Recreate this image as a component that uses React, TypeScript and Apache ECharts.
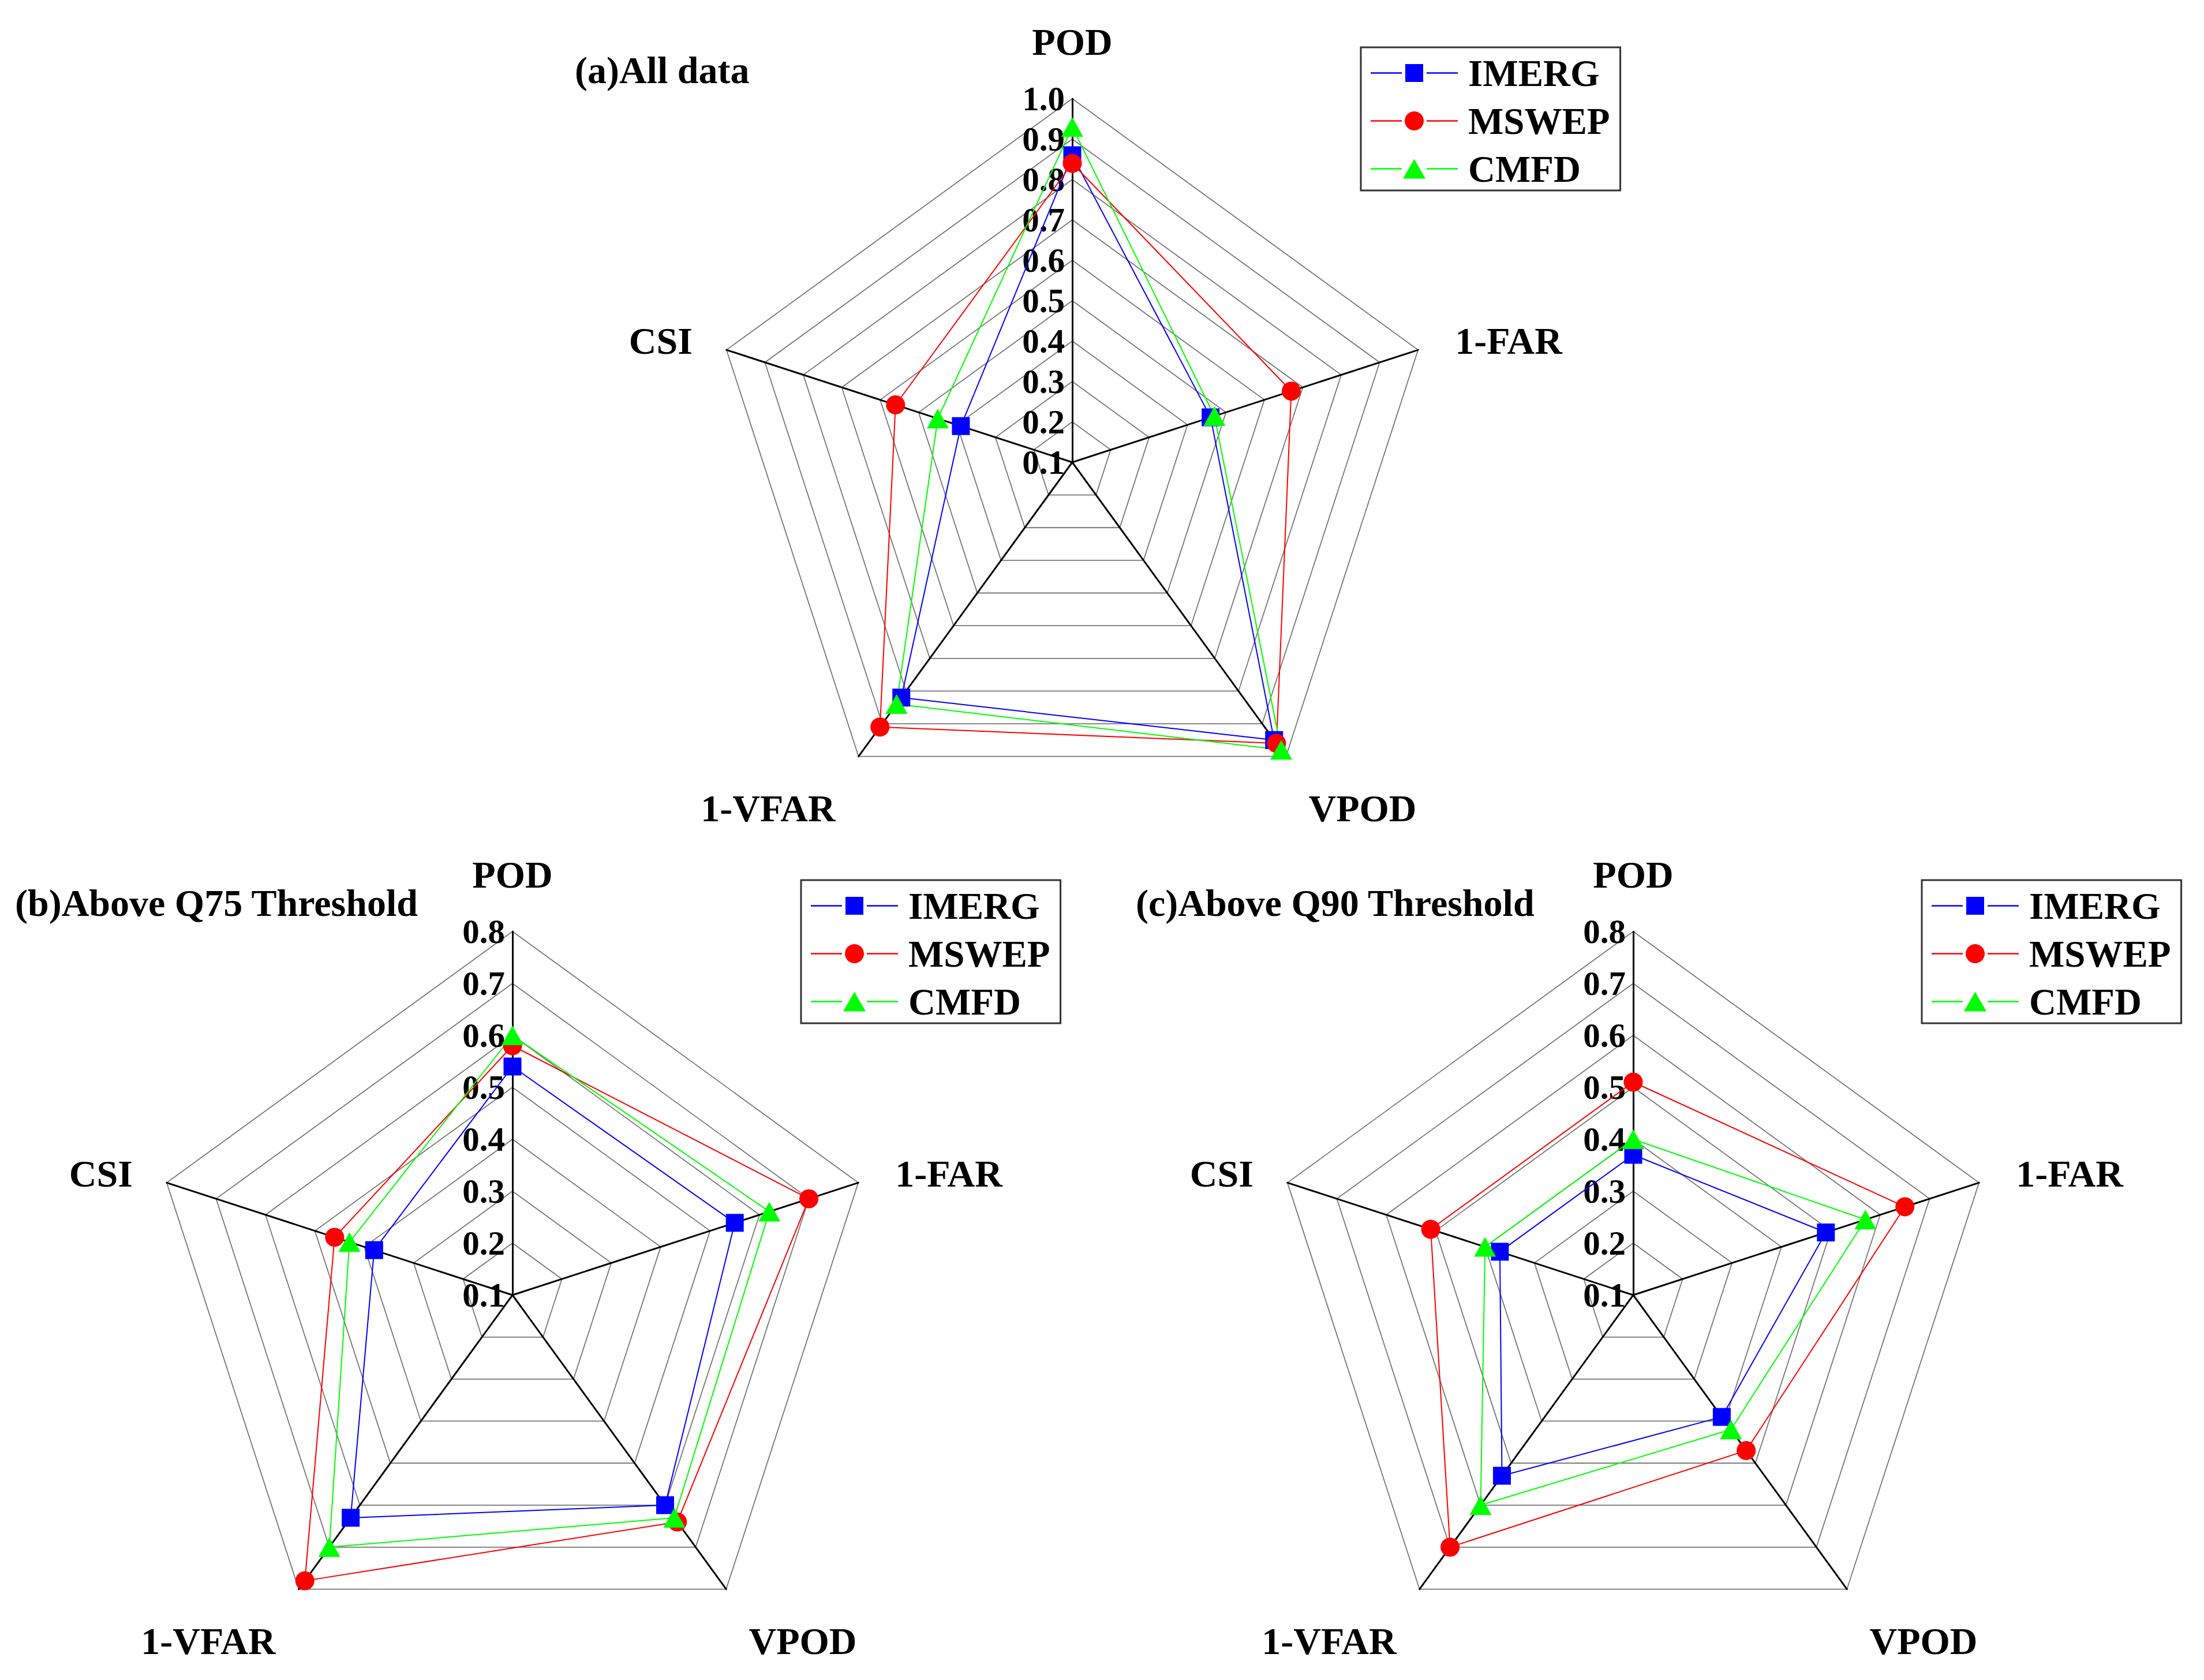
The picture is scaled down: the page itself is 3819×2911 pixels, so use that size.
import React, { useEffect, useRef } from 'react';
import * as echarts from 'echarts';

// ---------- data ----------
// indicators listed counter-clockwise from the top (ECharts radar order)
const indicatorNames = ['POD', 'CSI', '1-VFAR', 'VPOD', '1-FAR'];
const products = ['IMERG', 'MSWEP', 'CMFD'];
const panelTitles = ['(a)All data', '(b)Above Q75 Threshold', '(c)Above Q90 Threshold'];
const axisMin = 0.1;
const axisMaxes = [1.0, 0.8, 0.8];
const tickStep = 0.1;

// values ordered as indicatorNames: POD, CSI, 1-VFAR, VPOD, 1-FAR
const allDataIMERG = [0.86, 0.39, 0.82, 0.95, 0.46];
const allDataMSWEP = [0.84, 0.56, 0.91, 0.96, 0.67];
const allDataCMFD = [0.93, 0.45, 0.84, 0.98, 0.47];

const q75IMERG = [0.54, 0.38, 0.63, 0.6, 0.55];
const q75MSWEP = [0.58, 0.46, 0.78, 0.64, 0.7];
const q75CMFD = [0.6, 0.43, 0.7, 0.63, 0.62];

const q90IMERG = [0.37, 0.37, 0.53, 0.39, 0.49];
const q90MSWEP = [0.51, 0.51, 0.7, 0.47, 0.65];
const q90CMFD = [0.4, 0.4, 0.6, 0.42, 0.57];

const panelValues = [
  [allDataIMERG, allDataMSWEP, allDataCMFD],
  [q75IMERG, q75MSWEP, q75CMFD],
  [q90IMERG, q90MSWEP, q90CMFD],
];

// ---------- styles / layout ----------
const productColors = ['#0000ff', '#ff0000', '#00ff00'];
const productSymbols = ['rect', 'circle', 'triangle'];
const symbolSizes: any[] = [31, 33, [38, 34]];
const FONT = '"Liberation Serif", "Times New Roman", serif';
const CENTERS = [
  [1858, 801],
  [888, 2244],
  [2830, 2244],
];
const R = 630;

const corner = 'M0,0L0.01,0L0,0.01Z M164,40L163.99,40L164,39.99Z ';
const lines = 'M0,18.7H54V21.3H0Z M97,18.7H151V21.3H97Z ';
const legendIcons = [
  'path://' + corner + lines + 'M60,4.5H91V35.5H60Z',
  'path://' + corner + lines + 'M59,20A16.5,16.5 0 1 0 92,20A16.5,16.5 0 1 0 59,20Z',
  'path://' + corner + lines + 'M75.5,3L95,37H56Z',
];

function textEl(text: string, x: number, y: number, size: number, align: string) {
  return {
    type: 'text',
    x,
    y,
    silent: true,
    style: {
      text,
      fill: '#000',
      fontSize: size,
      fontWeight: 'bold',
      fontFamily: FONT,
      align,
      verticalAlign: 'middle',
    },
  };
}

export default function App() {
  const ref = useRef<HTMLDivElement>(null);

  useEffect(() => {
    if (!ref.current) return;
    const chart = echarts.init(ref.current, undefined, { renderer: 'svg' });

    const c18 = Math.cos((18 * Math.PI) / 180) * R;
    const s18 = Math.sin((18 * Math.PI) / 180) * R;

    const radar = CENTERS.map(([cx, cy], p) => ({
      center: [cx, cy],
      radius: R,
      startAngle: 90,
      shape: 'polygon',
      splitNumber: Math.round((axisMaxes[p] - axisMin) / tickStep),
      indicator: indicatorNames.map((name, j) =>
        j === 0
          ? {
              name,
              min: axisMin,
              max: axisMaxes[p],
              axisLabel: {
                show: true,
                color: '#000',
                fontSize: 59,
                fontWeight: 'bold',
                fontFamily: FONT,
                margin: 13,
                formatter: (v: number) => Number(v).toFixed(1),
              },
            }
          : { name, min: axisMin, max: axisMaxes[p] }
      ),
      axisName: { show: false },
      axisLine: { show: true, lineStyle: { color: '#000', width: 3 } },
      splitLine: { show: true, lineStyle: { color: '#777777', width: 1.8 } },
      splitArea: { show: false },
      axisTick: { show: false },
      axisLabel: { show: false },
    }));

    const series: any[] = [];
    panelValues.forEach((vals, p) =>
      vals.forEach((v, s) =>
        series.push({
          type: 'radar',
          radarIndex: p,
          name: products[s],
          symbol: productSymbols[s],
          symbolSize: symbolSizes[s],
          itemStyle: { color: productColors[s] },
          lineStyle: { color: productColors[s], width: 2 },
          emphasis: { disabled: true },
          silent: true,
          data: [{ value: v, name: products[s] }],
        })
      )
    );

    const legend = CENTERS.map(([cx, cy]) => ({
      orient: 'vertical',
      left: cx + 500,
      top: cy - 719,
      data: products.map((n, s) => ({ name: n, icon: legendIcons[s] })),
      itemWidth: 164,
      itemHeight: 40,
      itemGap: 18,
      padding: [12, 18, 5, 17],
      borderColor: '#333',
      borderWidth: 3,
      backgroundColor: '#fff',
      selectedMode: false,
      itemStyle: { borderWidth: 0 },
      textStyle: {
        color: '#000',
        fontSize: 65,
        lineHeight: 65,
        fontWeight: 'bold',
        fontFamily: FONT,
      },
    }));

    const graphic: any[] = [];
    CENTERS.forEach(([cx, cy], p) => {
      graphic.push(textEl(panelTitles[p], cx - 862, cy - 680, 66, 'left'));
      graphic.push(textEl('POD', cx, cy - 729, 66, 'center'));
      graphic.push(textEl('1-FAR', cx + c18 + 64, cy - s18 - 16, 66, 'left'));
      graphic.push(textEl('CSI', cx - c18 - 59, cy - s18 - 16, 66, 'right'));
      graphic.push(textEl('VPOD', cx + 503, cy + 599, 66, 'center'));
      graphic.push(textEl('1-VFAR', cx - 527, cy + 599, 66, 'center'));
    });

    chart.setOption({
      animation: false,
      backgroundColor: '#fff',
      radar,
      legend,
      series,
      graphic: { elements: graphic },
    });

    return () => chart.dispose();
  }, []);

  return (
    <div
      ref={ref}
      style={{ position: 'absolute', left: 0, top: 0, width: 3819, height: 2911 }}
    />
  );
}
